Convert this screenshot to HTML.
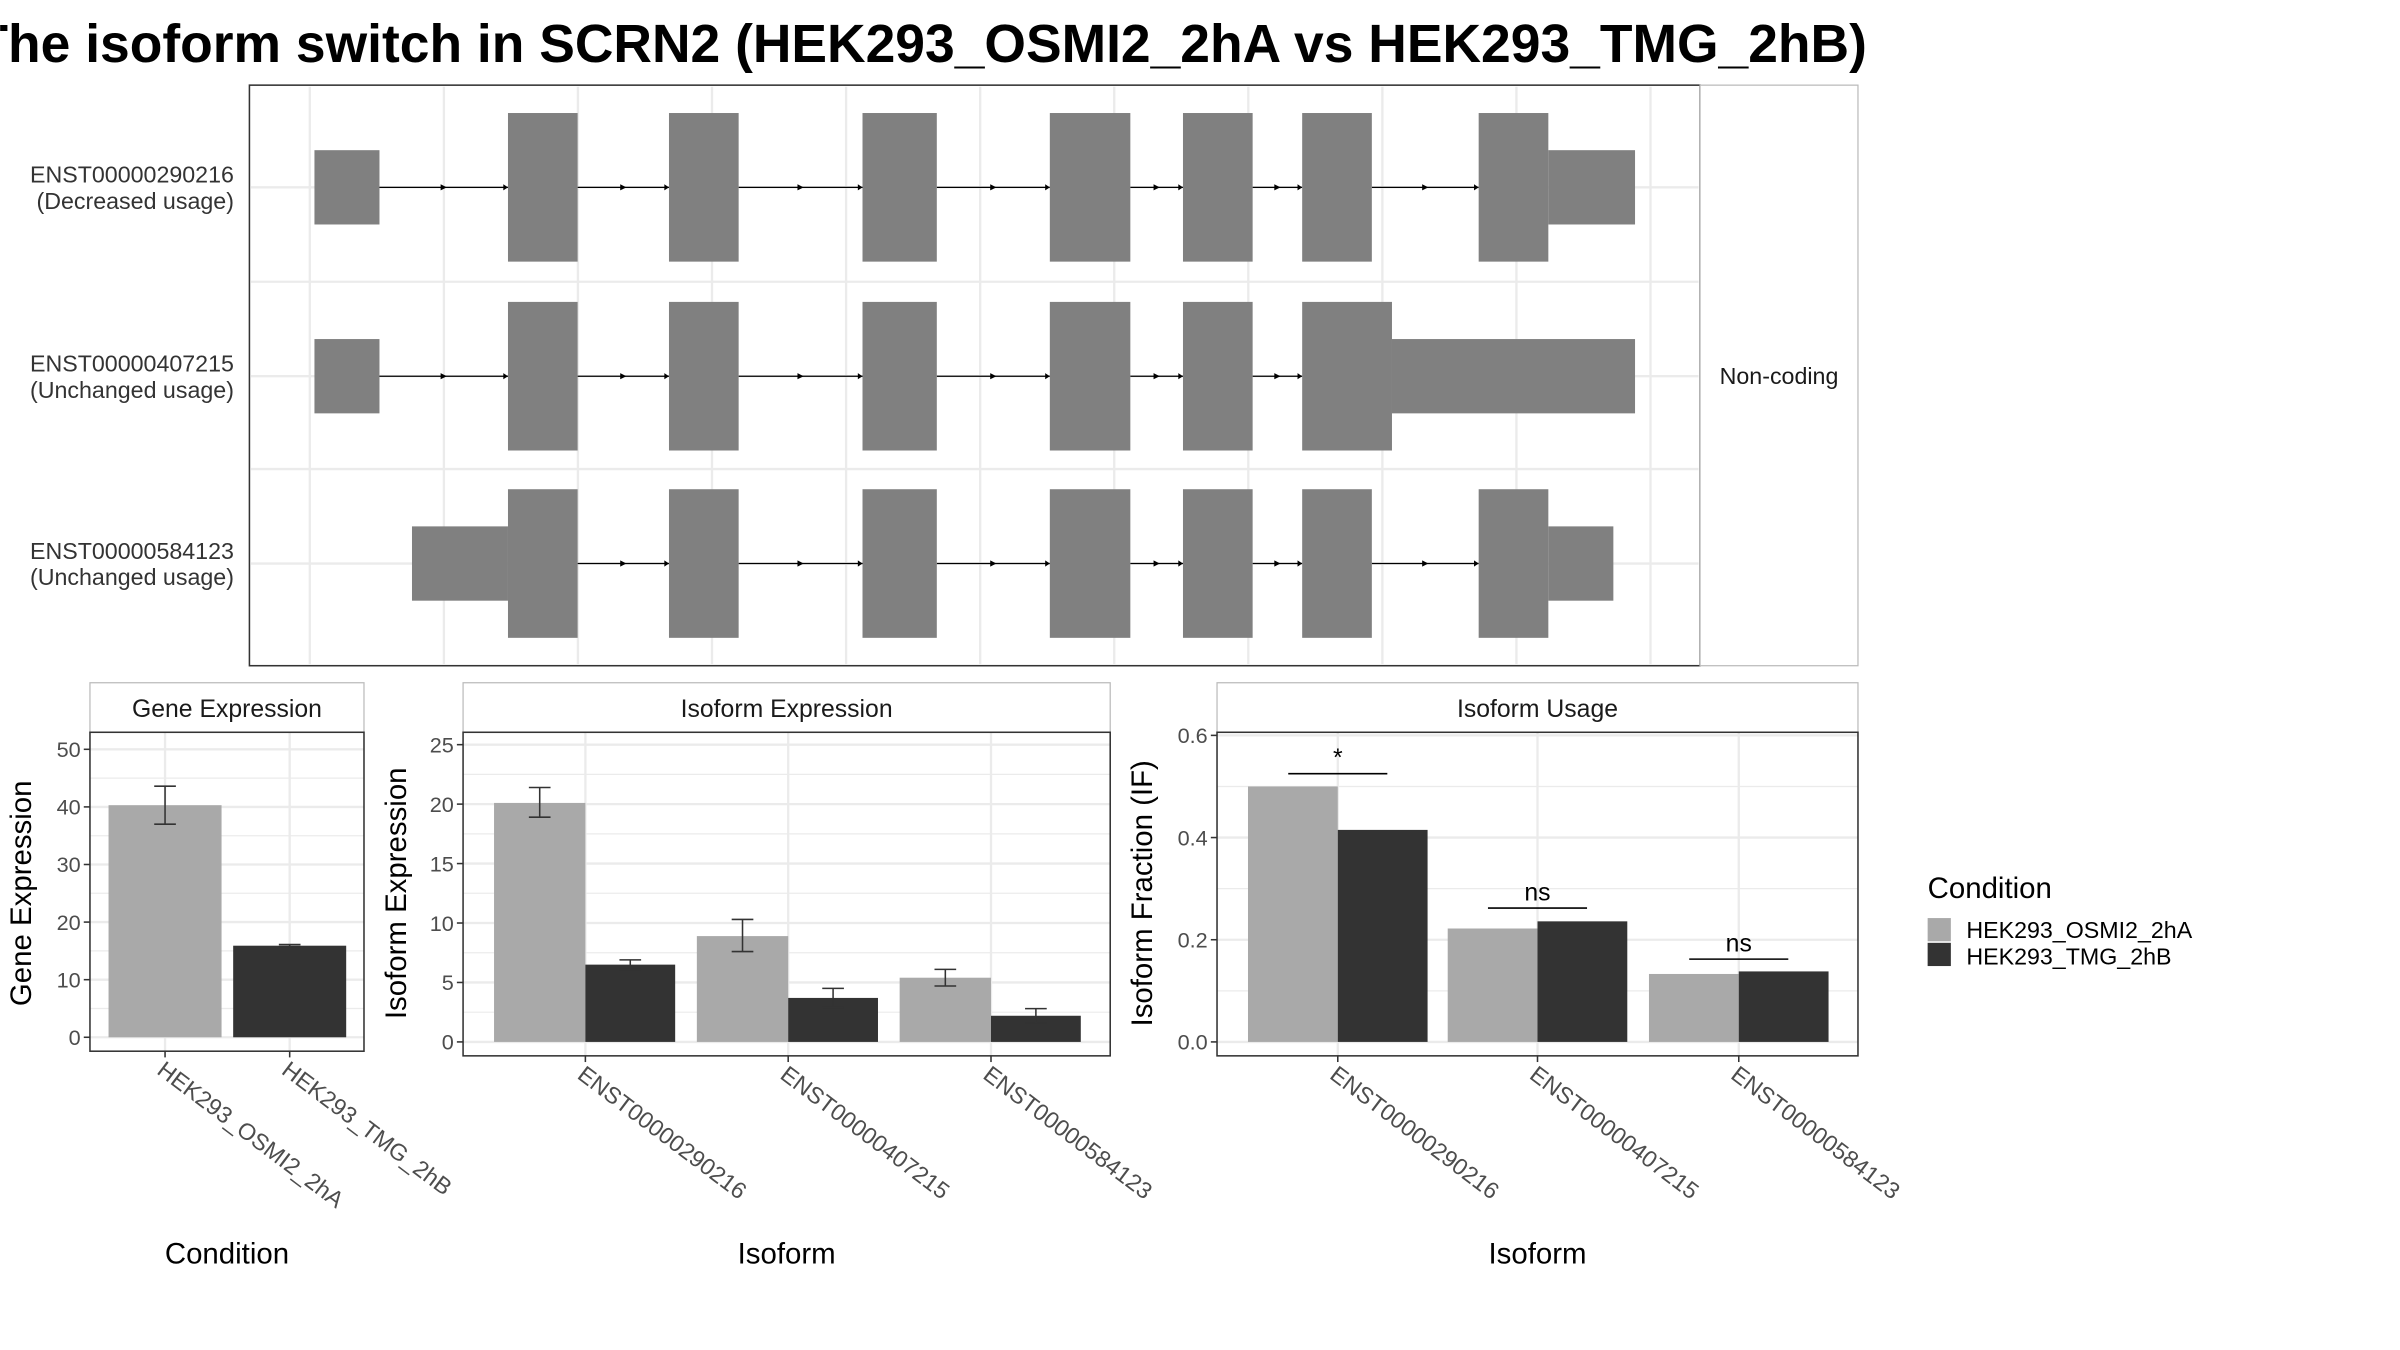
<!DOCTYPE html>
<html><head><meta charset="utf-8"><style>
html,body{margin:0;padding:0;background:#fff;width:2400px;height:1350px;overflow:hidden}
svg text{font-family:"Liberation Sans",sans-serif}
</style></head><body>
<svg id="chart" width="2400" height="1350" viewBox="0 0 1550 872" xmlns="http://www.w3.org/2000/svg">
<rect width="1550" height="872" fill="#fff"/>
<svg x="0" y="0" width="1207" height="60" overflow="hidden">
<text x="-16" y="40" font-size="34.5" font-weight="bold" fill="#000">The isoform switch in SCRN2 (HEK293_OSMI2_2hA vs HEK293_TMG_2hB)</text>
</svg>
<g id="topPanel"></g>
<g id="bottomPanels"></g>
</svg>
<script>
// ---- data ----
const transcripts = ["ENST00000290216","ENST00000407215","ENST00000584123"];
const usageLabels = ["(Decreased usage)","(Unchanged usage)","(Unchanged usage)"];
const exons = [
 [[203,245,0],[328,373,1],[432,477,1],[557,605,1],[678,730,1],[764,809,1],[841,886,1],[955,1000,1],[1000,1056,0]],
 [[203,245,0],[328,373,1],[432,477,1],[557,605,1],[678,730,1],[764,809,1],[841,899,1],[899,1056,0]],
 [[266,328,0],[328,373,1],[432,477,1],[557,605,1],[678,730,1],[764,809,1],[841,886,1],[955,1000,1],[1000,1042,0]]
];
const conditions = ["HEK293_OSMI2_2hA","HEK293_TMG_2hB"];
const geneExpr = [40.3, 15.9];
const geneErrLo = [37.0, 15.7];
const geneErrHi = [43.6, 16.1];
const geneTicks = [0,10,20,30,40,50];
const isoExprA = [20.1, 8.9, 5.4];
const isoExprB = [6.5, 3.7, 2.2];
const isoErrLoA = [18.9, 7.6, 4.7];
const isoErrHiA = [21.4, 10.3, 6.1];
const isoErrLoB = [6.1, 2.9, 1.6];
const isoErrHiB = [6.9, 4.5, 2.8];
const isoTicks = [0,5,10,15,20,25];
const usageA = [0.50, 0.222, 0.133];
const usageB = [0.415, 0.236, 0.138];
const usageTicks = [0.0,0.2,0.4,0.6];
const usageTickLabels = ["0.0","0.2","0.4","0.6"];
const sigLabels = ["*","ns","ns"];
const sigHeights = [0.525, 0.262, 0.162];

const NS="http://www.w3.org/2000/svg";
function mk(parent,tag,attrs,text){const e=document.createElementNS(NS,tag);for(const k in attrs)e.setAttribute(k,attrs[k]);if(text!==undefined)e.textContent=text;parent.appendChild(e);return e;}
const LIGHT="#A9A9A9",DARK="#333333",GRID="#EBEBEB";

// ---- top transcript panel ----
const topG=document.getElementById('topPanel');
mk(topG,'rect',{x:161,y:55,width:937,height:375,fill:'#fff',stroke:'#333','stroke-width':1});
mk(topG,'rect',{x:1098,y:55,width:102,height:375,fill:'#fff',stroke:'#bbb','stroke-width':0.8});
for(let k=0;k<11;k++){const x=200+k*86.6;mk(topG,'line',{x1:x,y1:56,x2:x,y2:429,stroke:GRID,'stroke-width':1.5});}
[182,303].forEach(y=>mk(topG,'line',{x1:162,y1:y,x2:1097,y2:y,stroke:GRID,'stroke-width':1.5}));
const rowY=[121,243,364];
transcripts.forEach((t,i)=>{
  const cy=rowY[i];
  mk(topG,'line',{x1:162,y1:cy,x2:1097,y2:cy,stroke:GRID,'stroke-width':1.5});
  const g=mk(topG,'g',{});
  
  
  const ex=exons[i];
  for(let j=0;j<ex.length-1;j++){
    const a=ex[j][1],b=ex[j+1][0];
    if(b>a){
      mk(g,'line',{x1:a,y1:cy,x2:b,y2:cy,stroke:'#000','stroke-width':0.8});
      const m=(a+b)/2;
      mk(g,'path',{d:`M${m-2},${cy-2} L${m+2},${cy} L${m-2},${cy+2}Z`,fill:'#000'});
      mk(g,'path',{d:`M${b-3},${cy-2} L${b},${cy} L${b-3},${cy+2}Z`,fill:'#000'});
    }
  }
  ex.forEach(e=>{const h=e[2]?48:24;const r=mk(g,'rect',{x:e[0],y:cy-h,width:e[1]-e[0],height:2*h,fill:'#808080'});
    
    });
  const l=mk(topG,'text',{x:151,y:cy-3,'text-anchor':'end','font-size':15,fill:'#333'},t);
  
  
  const u=mk(topG,'text',{x:151,y:cy+14,'text-anchor':'end','font-size':15,fill:'#333'},usageLabels[i]);
  
  
});
const nc=mk(topG,'text',{x:1149,y:248,'text-anchor':'middle','font-size':15,fill:'#1a1a1a'},'Non-coding');



// ---- bottom bar panels ----
const bottomG=document.getElementById('bottomPanels');
function panel(opt){
  const g=mk(bottomG,'g',{});
  
  
  const {x0,x1,py0,py1,y0px,ytopPx,vmax}=opt;
  const ys=v=>y0px-(v/vmax)*(y0px-ytopPx);
  mk(g,'rect',{x:x0,y:441,width:x1-x0,height:32,fill:'#fff',stroke:'#bbb','stroke-width':0.8});
  const st=mk(g,'text',{x:(x0+x1)/2,y:463,'text-anchor':'middle','font-size':16,fill:'#1a1a1a'},opt.strip);
  
  
  const ticks=opt.ticks;
  for(let i=0;i<ticks.length;i++){
    mk(g,'line',{x1:x0,y1:ys(ticks[i]),x2:x1,y2:ys(ticks[i]),stroke:GRID,'stroke-width':1.5});
    if(i<ticks.length-1){const m=(ticks[i]+ticks[i+1])/2;mk(g,'line',{x1:x0,y1:ys(m),x2:x1,y2:ys(m),stroke:GRID,'stroke-width':0.8});}
  }
  opt.centers.forEach(c=>mk(g,'line',{x1:c,y1:py0,x2:c,y2:py1,stroke:GRID,'stroke-width':1.5}));
  opt.series.forEach(s=>{
    s.vals.forEach((v,i)=>{
      const bx=opt.centers[i]+s.off;
      const col=s.colors?s.colors[i]:s.color;
      const r=mk(g,'rect',{x:bx,y:ys(v),width:s.w,height:y0px-ys(v),fill:col});
      
      
      if(s.lo){const mx=bx+s.w/2;const e=mk(g,'path',{d:`M${mx-7},${ys(s.hi[i])}H${mx+7}M${mx},${ys(s.hi[i])}V${ys(s.lo[i])}M${mx-7},${ys(s.lo[i])}H${mx+7}`,stroke:'#333',fill:'none','stroke-width':1});
        
        }
    });
  });
  mk(g,'rect',{x:x0,y:py0,width:x1-x0,height:py1-py0,fill:'none',stroke:'#333','stroke-width':1});
  ticks.forEach((t,i)=>{const y=ys(t);mk(g,'line',{x1:x0-4,y1:y,x2:x0,y2:y,stroke:'#333'});
    const tl=mk(g,'text',{x:x0-6,y:y+5,'text-anchor':'end','font-size':14,fill:'#4d4d4d'},opt.tickLabels?opt.tickLabels[i]:String(t));
    
    });
  opt.cats.forEach((c,i)=>{const x=opt.centers[i];mk(g,'line',{x1:x,y1:py1,x2:x,y2:py1+4,stroke:'#333'});
    const tl=mk(g,'text',{x:x-6,y:py1+14,'font-size':15,fill:'#4d4d4d',transform:`rotate(37 ${x-6} ${py1+14})`},c);
    
    });
  const yt=mk(g,'text',{x:opt.ytx,y:577,'text-anchor':'middle','font-size':19,fill:'#000',transform:`rotate(-90 ${opt.ytx} 577)`,'font-family':'DejaVu Sans, sans-serif'},opt.ytitle);
  
  
  const xt=mk(g,'text',{x:(x0+x1)/2,y:816,'text-anchor':'middle','font-size':19,fill:'#000'},opt.xtitle);
  
  
  return {g,ys};
}
panel({name:'gene-expression-panel',strip:'Gene Expression',x0:58,x1:235,py0:473,py1:679,y0px:670,ytopPx:484,vmax:50,ticks:geneTicks,
  centers:[106.5,187],cats:conditions,ytitle:'Gene Expression',ytx:20,xtitle:'Condition',
  series:[{key:'gene',vals:geneExpr,lo:geneErrLo,hi:geneErrHi,colors:[LIGHT,DARK],off:-36.5,w:73}]});
panel({name:'isoform-expression-panel',strip:'Isoform Expression',x0:299,x1:717,py0:473,py1:682,y0px:673,ytopPx:481,vmax:25,ticks:isoTicks,
  centers:[378,509,640],cats:transcripts,ytitle:'Isoform Expression',ytx:262,xtitle:'Isoform',
  series:[{key:'expr-a',vals:isoExprA,lo:isoErrLoA,hi:isoErrHiA,color:LIGHT,off:-59,w:59},
          {key:'expr-b',vals:isoExprB,lo:isoErrLoB,hi:isoErrHiB,color:DARK,off:0,w:58}]});
const up=panel({name:'isoform-usage-panel',strip:'Isoform Usage',x0:786,x1:1200,py0:473,py1:682,y0px:673,ytopPx:475,vmax:0.6,ticks:usageTicks,tickLabels:usageTickLabels,
  centers:[864,993,1123],cats:transcripts,ytitle:'Isoform Fraction (IF)',ytx:744,xtitle:'Isoform',
  series:[{key:'usage-a',vals:usageA,color:LIGHT,off:-58,w:58},
          {key:'usage-b',vals:usageB,color:DARK,off:0,w:58}]});
[864,993,1123].forEach((c,i)=>{const y=up.ys(sigHeights[i]);
  mk(up.g,'line',{x1:c-32,y1:y,x2:c+32,y2:y,stroke:'#000','stroke-width':1});
  const t=mk(up.g,'text',{x:c,y:y-5,'text-anchor':'middle','font-size':16,fill:'#000'},sigLabels[i]);
  
  });

const lg=mk(bottomG,'g',{});


const lt=mk(lg,'text',{x:1245,y:580,'font-size':19,fill:'#000'},'Condition');


[LIGHT,DARK].forEach((c,i)=>{
  const e=mk(lg,'g',{});
  
  
  mk(e,'rect',{x:1245,y:593+i*16,width:15,height:15,fill:c});
  mk(e,'text',{x:1270,y:606+i*17,'font-size':15,fill:'#000'},conditions[i]);
});
</script>
</body></html>
